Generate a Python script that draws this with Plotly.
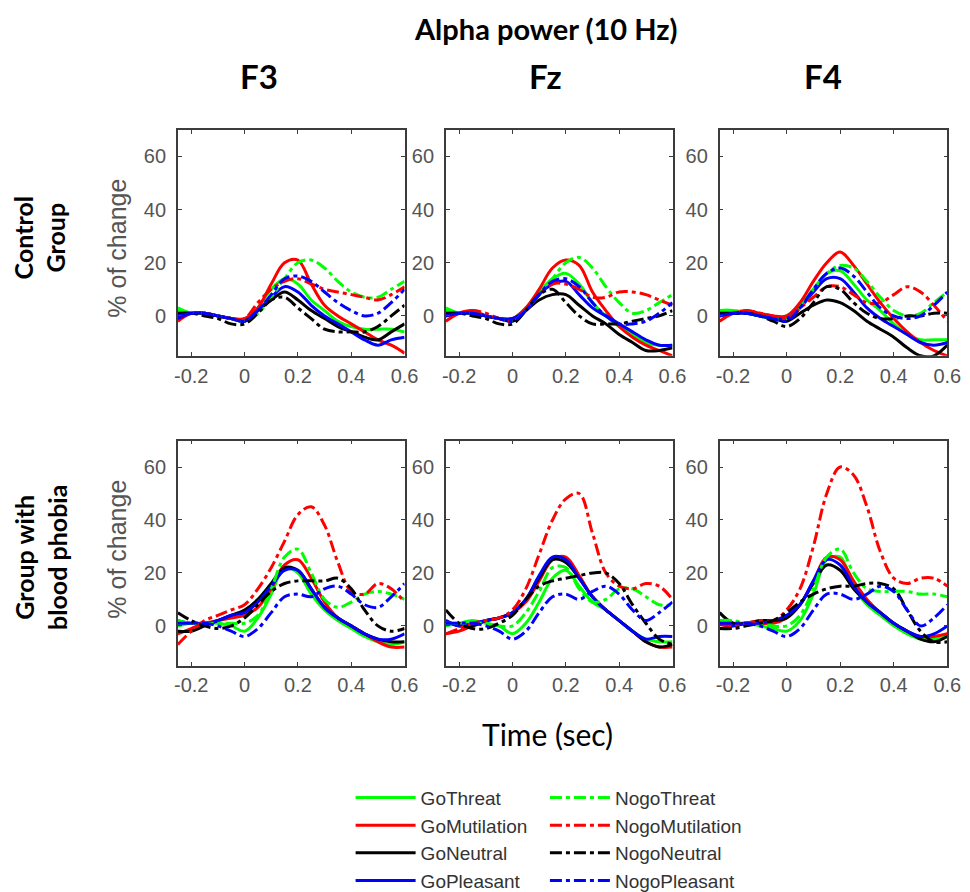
import plotly.graph_objects as go

# ---------------- data ----------------
time_sec = [-0.25, -0.2, -0.15, -0.1, -0.05, 0, 0.05, 0.1, 0.15, 0.2, 0.25, 0.3, 0.35, 0.4, 0.45, 0.5, 0.55, 0.6]

conditions = ["GoThreat", "GoMutilation", "GoNeutral", "GoPleasant",
              "NogoThreat", "NogoMutilation", "NogoNeutral", "NogoPleasant"]
electrodes = ["F3", "Fz", "F4"]
groups = ["Control<br>Group", "Group with<br>blood phobia"]
x_ticks = [-0.2, 0, 0.2, 0.4, 0.6]
x_tick_labels = ["-0.2", "0", "0.2", "0.4", "0.6"]
y_ticks = [0, 20, 40, 60]

# Control group
f3_ctrl_go_threat = [3, 1, 1, 0, -1, -2, 3, 10, 14, 12, 6, 2, -2, -4, -5, -5, -5, -6]
f3_ctrl_go_mut = [-2, 1, 1, 0, -1, -1, 3, 12, 20, 21, 12, 4, 0, -3, -6, -9, -11, -14]
f3_ctrl_go_neu = [1, 1, 1, 0, -1, -2, 2, 6, 9, 6, 2, -1, -4, -6, -8, -9, -6, -3]
f3_ctrl_go_ple = [-1, 1, 1, 0, -1, -2, 2, 7, 11, 9, 4, 0, -3, -6, -9, -11, -9, -8]
f3_ctrl_nogo_threat = [2, 1, 1, 0, -1, -2, 1, 7, 14, 20, 21, 18, 13, 9, 7, 7, 10, 13]
f3_ctrl_nogo_mut = [0, 1, 1, 0, -1, -1, 5, 10, 13, 14, 12, 10, 9, 8, 7, 6, 8, 11]
f3_ctrl_nogo_neu = [1, 1, 0, -1, -3, -3, 1, 6, 7, 3, -1, -5, -6, -6, -6, -4, 0, 4]
f3_ctrl_nogo_ple = [0, 1, 1, 0, -1, -2, 2, 8, 14, 15, 13, 9, 5, 2, 0, 1, 5, 10]

fz_ctrl_go_threat = [3, 1, 1, 0, -1, -1, 3, 9, 14, 16, 12, 5, 0, -4, -7, -10, -11, -11]
fz_ctrl_go_mut = [-2, 1, 2, 0, -1, -1, 3, 10, 18, 21, 19, 9, 2, -4, -8, -11, -13, -15]
fz_ctrl_go_neu = [1, 1, 1, 0, -1, -2, 2, 6, 8, 8, 4, 0, -3, -7, -10, -13, -13, -12]
fz_ctrl_go_ple = [0, 1, 1, 0, -1, -1, 2, 8, 12, 13, 8, 3, 0, -3, -6, -9, -11, -11]
fz_ctrl_nogo_threat = [2, 1, 1, 0, -1, -2, 2, 8, 14, 20, 22, 18, 11, 5, 1, 2, 5, 8]
fz_ctrl_nogo_mut = [0, 1, 2, 1, -1, -2, 2, 8, 12, 12, 10, 7, 7, 9, 9, 8, 6, 4]
fz_ctrl_nogo_neu = [1, 1, 0, -1, -3, -3, 2, 8, 10, 5, 0, -3, -3, -3, -2, -1, 0, 2]
fz_ctrl_nogo_ple = [0, 1, 1, 0, -1, -2, 2, 8, 13, 14, 11, 5, 0, -3, -3, -2, 1, 5]

f4_ctrl_go_threat = [2, 2, 1, 0, -1, 0, 4, 10, 16, 17, 12, 6, 2, -3, -7, -9, -9, -9]
f4_ctrl_go_mut = [-2, 1, 2, 1, 0, 0, 5, 13, 20, 24, 19, 12, 5, -1, -6, -10, -13, -15]
f4_ctrl_go_neu = [1, 1, 1, 0, -1, -2, 1, 4, 6, 5, 2, -2, -5, -8, -12, -15, -15, -11]
f4_ctrl_go_ple = [0, 1, 1, 0, -1, -1, 3, 9, 14, 14, 9, 3, -1, -4, -7, -10, -11, -10]
f4_ctrl_nogo_threat = [2, 2, 1, 0, -1, -1, 3, 10, 16, 19, 18, 13, 7, 2, 0, 1, 5, 9]
f4_ctrl_nogo_mut = [0, 1, 2, 1, 0, -1, 3, 7, 11, 11, 8, 5, 5, 8, 11, 9, 4, -2]
f4_ctrl_nogo_neu = [1, 1, 1, 0, -2, -4, -1, 5, 11, 10, 5, 1, -1, -1, 0, 0, 1, 1]
f4_ctrl_nogo_ple = [0, 1, 1, 0, -1, -2, 3, 10, 16, 18, 15, 9, 3, 0, -1, 0, 4, 9]

# Blood-phobia group
f3_phob_go_threat = [0, 1, 1, 1, 0, -2, 3, 12, 22, 20, 12, 6, 2, -1, -4, -6, -7, -6]
f3_phob_go_mut = [-3, -1, 1, 2, 3, 4, 7, 14, 23, 25, 18, 9, 3, 0, -3, -6, -8, -8]
f3_phob_go_neu = [-2, -2, 0, 2, 4, 6, 10, 16, 22, 21, 14, 7, 3, 0, -3, -5, -6, -6]
f3_phob_go_ple = [2, 1, 1, 2, 4, 5, 9, 15, 21, 21, 14, 7, 3, 0, -3, -5, -5, -3]
f3_phob_nogo_threat = [2, 1, 1, 1, 1, 1, 4, 14, 26, 29, 20, 10, 7, 9, 12, 13, 12, 10]
f3_phob_nogo_mut = [-7, -2, 2, 4, 6, 8, 14, 22, 32, 42, 45, 38, 24, 13, 12, 16, 14, 9]
f3_phob_nogo_neu = [5, 2, 0, -1, 0, 3, 8, 13, 16, 17, 17, 17, 18, 14, 6, 0, -2, -1]
f3_phob_nogo_ple = [1, 1, 1, 0, -2, -4, -1, 5, 11, 12, 11, 14, 15, 12, 8, 7, 11, 16]

fz_phob_go_threat = [0, 1, 2, 1, 0, -3, 1, 9, 18, 21, 15, 9, 6, 2, -2, -5, -6, -6]
fz_phob_go_mut = [-3, -2, 0, 2, 3, 5, 9, 17, 25, 26, 19, 11, 6, 2, -2, -6, -8, -8]
fz_phob_go_neu = [2, 0, 0, 2, 3, 5, 10, 18, 25, 24, 18, 11, 6, 2, -2, -6, -8, -7]
fz_phob_go_ple = [2, 0, 1, 2, 3, 5, 10, 19, 26, 25, 18, 11, 6, 2, -2, -5, -4, -4]
fz_phob_nogo_threat = [1, 1, 1, 1, 0, 0, 5, 13, 22, 22, 14, 9, 10, 14, 14, 11, 8, 8]
fz_phob_nogo_mut = [-3, -1, 1, 2, 3, 6, 14, 27, 40, 48, 50, 35, 20, 15, 14, 16, 15, 10]
fz_phob_nogo_neu = [6, 1, -1, -1, 1, 4, 10, 15, 17, 18, 19, 20, 20, 16, 8, 1, -5, -7]
fz_phob_nogo_ple = [1, 1, 1, 0, -2, -5, -2, 5, 11, 12, 10, 13, 15, 12, 6, 2, 5, 9]

f4_phob_go_threat = [2, 1, 1, 0, -1, -2, 2, 12, 25, 26, 15, 8, 4, 0, -3, -5, -5, -4]
f4_phob_go_mut = [-1, 0, 1, 1, 1, 3, 8, 17, 26, 25, 17, 10, 5, 1, -2, -4, -4, -3]
f4_phob_go_neu = [5, 1, 1, 2, 2, 3, 8, 16, 23, 21, 14, 9, 5, 1, -2, -5, -6, -4]
f4_phob_go_ple = [1, 0, 1, 1, 2, 4, 8, 17, 25, 23, 15, 9, 5, 1, -2, -4, -3, 0]
f4_phob_nogo_threat = [2, 2, 1, 1, 0, 0, 4, 14, 26, 29, 20, 14, 13, 13, 13, 12, 12, 11]
f4_phob_nogo_mut = [1, 0, 1, 2, 2, 6, 14, 30, 50, 60, 57, 45, 28, 18, 16, 18, 18, 15]
f4_phob_nogo_neu = [-1, -1, 0, 1, 2, 5, 9, 12, 14, 15, 15, 16, 16, 14, 6, -2, -6, -6]
f4_phob_nogo_ple = [1, 1, 1, 0, -2, -4, -1, 6, 12, 12, 10, 12, 15, 13, 6, 0, 3, 8]

panels = [
    [f3_ctrl_go_threat, f3_ctrl_go_mut, f3_ctrl_go_neu, f3_ctrl_go_ple,
     f3_ctrl_nogo_threat, f3_ctrl_nogo_mut, f3_ctrl_nogo_neu, f3_ctrl_nogo_ple],
    [fz_ctrl_go_threat, fz_ctrl_go_mut, fz_ctrl_go_neu, fz_ctrl_go_ple,
     fz_ctrl_nogo_threat, fz_ctrl_nogo_mut, fz_ctrl_nogo_neu, fz_ctrl_nogo_ple],
    [f4_ctrl_go_threat, f4_ctrl_go_mut, f4_ctrl_go_neu, f4_ctrl_go_ple,
     f4_ctrl_nogo_threat, f4_ctrl_nogo_mut, f4_ctrl_nogo_neu, f4_ctrl_nogo_ple],
    [f3_phob_go_threat, f3_phob_go_mut, f3_phob_go_neu, f3_phob_go_ple,
     f3_phob_nogo_threat, f3_phob_nogo_mut, f3_phob_nogo_neu, f3_phob_nogo_ple],
    [fz_phob_go_threat, fz_phob_go_mut, fz_phob_go_neu, fz_phob_go_ple,
     fz_phob_nogo_threat, fz_phob_nogo_mut, fz_phob_nogo_neu, fz_phob_nogo_ple],
    [f4_phob_go_threat, f4_phob_go_mut, f4_phob_go_neu, f4_phob_go_ple,
     f4_phob_nogo_threat, f4_phob_nogo_mut, f4_phob_nogo_neu, f4_phob_nogo_ple],
]

# ---------------- styling ----------------
W, H = 970, 892
colors = ["#00ff00", "#ff0000", "#000000", "#0000ff"] * 2
dashes = ["solid"] * 4 + ["12px,4px,4px,4px"] * 4
col_px = [(169, 400), (442, 673), (721, 953)]
row_px = [(125, 357), (444, 675)]
axis_col = "#3c3c3c"
tick_font = dict(family="Liberation Sans, Arial", size=20, color="#555555")

fig = go.Figure()
layout = dict()
for p, series in enumerate(panels):
    r, c = divmod(p, 3)
    idx = "" if p == 0 else str(p + 1)
    for k, ys in enumerate(series):
        fig.add_trace(go.Scatter(
            x=time_sec, y=ys, mode="lines", name=conditions[k],
            line=dict(color=colors[k], width=3, dash=dashes[k], shape="spline", smoothing=1.0),
            xaxis="x" + idx, yaxis="y" + idx,
            showlegend=(p == 0), legend="legend" if k < 4 else "legend2",
            hoverinfo="skip",
        ))
    x0, x1 = col_px[c]
    y0, y1 = row_px[r]
    layout["xaxis" + idx] = dict(
        domain=[x0 / W, x1 / W], anchor="y" + idx, range=[-0.25, 0.6],
        tickvals=x_ticks, ticktext=x_tick_labels, ticks="inside", ticklen=4,
        tickcolor=axis_col, showline=True, linecolor=axis_col, linewidth=1.5,
        mirror="ticks", showgrid=False, zeroline=False, tickfont=tick_font,
        ticklabelstandoff=1, fixedrange=True,
    )
    layout["yaxis" + idx] = dict(
        domain=[1 - y1 / H, 1 - y0 / H], anchor="x" + idx, range=[-15, 70],
        tickvals=y_ticks, ticks="inside", ticklen=4,
        tickcolor=axis_col, showline=True, linecolor=axis_col, linewidth=1.5,
        mirror="ticks", showgrid=False, zeroline=False, tickfont=tick_font,
        ticklabelstandoff=6, fixedrange=True,
    )

def px_ann(text, x, y, size, bold=False, angle=0, color="#000000", family="Lato"):
    return dict(text=("<b>%s</b>" % text) if bold else text, x=x / W, y=1 - y / H,
                xref="paper", yref="paper", showarrow=False, textangle=angle,
                xanchor="center", yanchor="middle",
                font=dict(family=family, size=size, color=color))

annotations = [px_ann("Alpha power (10 Hz)", 544, 21, 29, bold=True)]
for name, cx in zip(electrodes, [252, 544, 826]):
    annotations.append(px_ann(name, cx, 70, 33, bold=True))
annotations.append(px_ann(groups[0], 28, 236, 25, bold=True, angle=-90))
annotations.append(px_ann(groups[1], 29, 564, 25, bold=True, angle=-90))
annotations.append(px_ann("% of change", 107, 247, 25, angle=-90, color="#555555",
                          family="Liberation Sans, Arial"))
annotations.append(px_ann("% of change", 107, 556, 25, angle=-90, color="#555555",
                          family="Liberation Sans, Arial"))
annotations.append(px_ann("Time (sec)", 546, 745, 30))

legend_font = dict(family="Liberation Sans, Arial", size=19, color="#333333")
fig.update_layout(
    width=W, height=H, margin=dict(l=0, r=0, t=0, b=0),
    paper_bgcolor="white", plot_bgcolor="white",
    annotations=annotations,
    legend=dict(x=345 / W, y=1 - 791 / H, xanchor="left", yanchor="top",
                font=legend_font, bgcolor="rgba(0,0,0,0)", tracegroupgap=0,
                itemwidth=60),
    legend2=dict(x=543 / W, y=1 - 791 / H, xanchor="left", yanchor="top",
                 font=legend_font, bgcolor="rgba(0,0,0,0)", tracegroupgap=0,
                 itemwidth=60),
    **layout,
)
fig.write_html("out.html")
